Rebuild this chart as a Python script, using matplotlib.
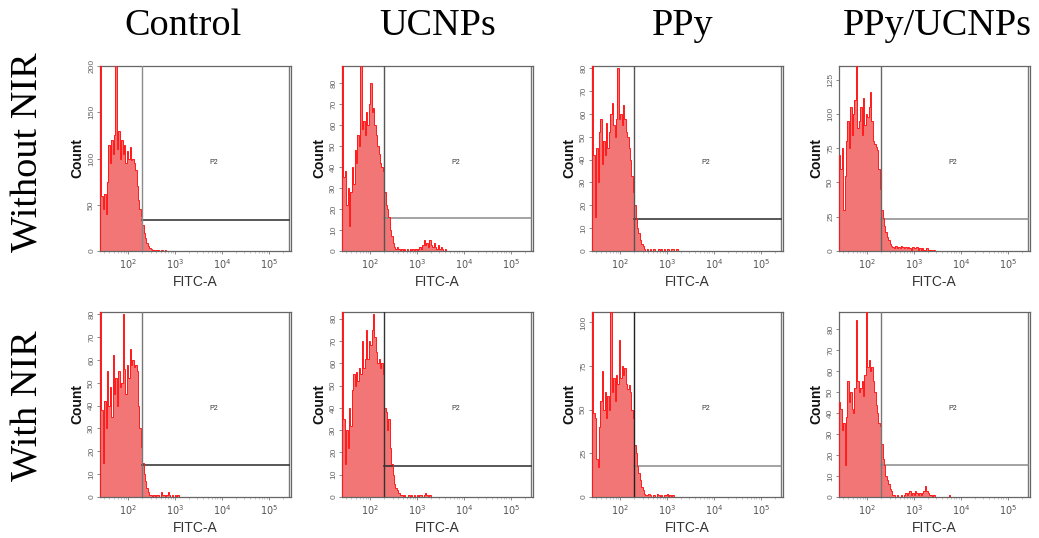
import numpy as np
import matplotlib
matplotlib.use("Agg")
import matplotlib.pyplot as plt

# ---------------- data ----------------
col_titles = ["Control", "UCNPs", "PPy", "PPy/UCNPs"]
row_titles = ["Without NIR", "With NIR"]

# log10 bin layout of the FITC-A histograms
log_start = 1.40
log_step = 0.03
n_bins = 80

ctrl_off = [210, 60, 45, 62, 40, 75, 115, 95, 120, 105, 125, 210, 110, 130, 100, 120, 105, 115, 95, 108,
            100, 112, 98, 100, 95, 88, 70, 55, 45, 38, 28, 20, 14, 9, 5, 3, 2, 1, 1, 0,
            1, 1, 0, 1, 1, 0, 1, 0, 0, 0, 0, 0, 0, 0, 0, 0, 0, 0, 0, 0,
            0, 0, 0, 0, 0, 0, 0, 0, 0, 0, 0, 0, 0, 0, 0, 0, 0, 0, 0, 0]
ucnp_off = [90, 35, 38, 22, 30, 12, 28, 40, 32, 48, 42, 55, 50, 90, 58, 62, 55, 66, 60, 70,
            80, 66, 68, 60, 55, 50, 46, 42, 40, 38, 28, 22, 20, 16, 10, 7, 4, 2, 1, 2,
            1, 0, 1, 0, 1, 0, 1, 0, 1, 0, 1, 0, 1, 0, 1, 2, 1, 3, 5, 3,
            4, 2, 5, 3, 2, 4, 2, 1, 3, 1, 2, 1, 0, 1, 0, 0, 0, 0, 0, 0]
ppy_off = [85, 42, 15, 45, 30, 52, 58, 38, 48, 42, 56, 45, 52, 60, 65, 55, 50, 58, 80, 58,
           60, 55, 64, 58, 52, 50, 45, 40, 33, 26, 20, 14, 10, 8, 5, 3, 2, 1, 0, 1,
           0, 1, 0, 1, 1, 0, 0, 1, 0, 1, 0, 1, 0, 1, 1, 0, 1, 1, 0, 0,
           1, 0, 0, 0, 0, 0, 0, 0, 0, 0, 0, 0, 0, 0, 0, 0, 0, 0, 0, 0]
ppyucnp_off = [70, 60, 75, 30, 55, 80, 95, 75, 105, 85, 100, 110, 135, 90, 95, 105, 85, 112, 92, 100,
               98, 105, 116, 95, 80, 78, 76, 74, 60, 45, 30, 24, 18, 14, 10, 8, 5, 4, 3, 2,
               4, 2, 3, 2, 4, 3, 2, 3, 2, 3, 2, 1, 3, 2, 2, 3, 1, 2, 1, 2,
               1, 1, 2, 0, 1, 1, 0, 1, 0, 0, 0, 0, 0, 0, 0, 0, 0, 0, 0, 0]
ctrl_on = [85, 38, 15, 42, 30, 55, 40, 48, 35, 62, 45, 52, 40, 55, 48, 50, 80, 56, 45, 58,
           52, 65, 58, 60, 57, 58, 55, 40, 30, 22, 15, 10, 7, 4, 2, 1, 1, 0, 1, 0,
           1, 1, 0, 2, 1, 1, 0, 1, 2, 1, 0, 1, 0, 1, 0, 1, 0, 0, 0, 0,
           0, 0, 0, 0, 0, 0, 0, 0, 0, 0, 0, 0, 0, 0, 0, 0, 0, 0, 0, 0]
ucnp_on = [88, 35, 15, 30, 22, 40, 32, 48, 55, 50, 56, 52, 58, 55, 70, 58, 62, 75, 62, 70,
           68, 75, 82, 72, 65, 60, 62, 58, 60, 55, 40, 38, 30, 35, 22, 15, 10, 6, 4, 3,
           2, 1, 1, 0, 1, 0, 0, 1, 0, 1, 0, 1, 0, 1, 0, 1, 1, 0, 1, 2,
           1, 0, 1, 0, 0, 0, 0, 0, 0, 0, 0, 0, 0, 0, 0, 0, 0, 0, 0, 0]
ppy_on = [110, 48, 45, 22, 17, 40, 55, 72, 50, 60, 45, 58, 50, 106, 60, 68, 55, 70, 65, 90,
          68, 75, 70, 74, 65, 62, 64, 60, 50, 45, 30, 25, 18, 14, 10, 6, 4, 2, 1, 1,
          2, 1, 0, 1, 1, 0, 2, 1, 0, 1, 0, 1, 1, 2, 0, 1, 0, 1, 0, 0,
          0, 0, 0, 0, 0, 0, 0, 0, 0, 0, 0, 0, 0, 0, 0, 0, 0, 0, 0, 0]
ppyucnp_on = [45, 42, 32, 35, 15, 38, 55, 45, 50, 42, 40, 52, 84, 55, 50, 52, 55, 48, 58, 88,
              62, 65, 60, 62, 55, 50, 44, 40, 35, 34, 25, 18, 15, 10, 8, 6, 4, 3, 1, 1,
              0, 1, 0, 0, 1, 0, 1, 2, 1, 2, 3, 1, 2, 1, 3, 2, 1, 2, 1, 2,
              3, 5, 3, 2, 1, 1, 0, 1, 0, 0, 0, 0, 0, 0, 0, 0, 0, 0, 1, 0]

panel_counts = [ctrl_off, ucnp_off, ppy_off, ppyucnp_off,
                ctrl_on, ucnp_on, ppy_on, ppyucnp_on]
y_max = [200, 88, 81, 135, 81, 83, 106, 88]
y_ticks = [[0, 50, 100, 150, 200],
           [0, 10, 20, 30, 40, 50, 60, 70, 80],
           [0, 10, 20, 30, 40, 50, 60, 70, 80],
           [0, 25, 50, 75, 100, 125],
           [0, 10, 20, 30, 40, 50, 60, 70, 80],
           [0, 10, 20, 30, 40, 50, 60, 70, 80],
           [0, 25, 50, 75, 100],
           [0, 10, 20, 30, 40, 50, 60, 70, 80]]
gate_low = 200
gate_high = 262144
gate_level = [34, 15.5, 14, 23.5, 14, 14, 18, 15]
x_ticks = [1e2, 1e3, 1e4, 1e5]
x_ticklabels = ["$10^2$", "$10^3$", "$10^4$", "$10^5$"]

# ---------------- styles ----------------
hline_col = ["#2a2a2a", "#8a8a8a", "#2a2a2a", "#8a8a8a", "#2a2a2a", "#2a2a2a", "#8a8a8a", "#8a8a8a"]
vline_col = ["#8a8a8a", "#555555", "#555555", "#666666", "#777777", "#333333", "#222222", "#777777"]

plt.rcParams["font.family"] = ["Liberation Sans", "DejaVu Sans"]

fig = plt.figure(figsize=(10.39, 5.38), dpi=100)
W, H = 1039.0, 538.0
col_left = [100, 342, 592, 839]
row_top = [66, 312]
ax_w, ax_h = 191, 185

edges = 10 ** (log_start + log_step * np.arange(n_bins + 1))

for k in range(8):
    r, c = divmod(k, 4)
    ax = fig.add_axes([col_left[c] / W, 1 - (row_top[r] + ax_h) / H, ax_w / W, ax_h / H])
    vals = np.array(panel_counts[k], dtype=float)
    ax.stairs(vals, edges, fill=True, color="#f37676", lw=0, zorder=2)
    ax.stairs(vals, edges, color="#ff1a1a", lw=0.7, zorder=3)
    ax.set_xscale("log")
    ax.set_xlim(10 ** 1.40, 10 ** 5.47)
    ax.set_ylim(0, y_max[k])
    # gate P2
    ax.axvline(gate_low, color=vline_col[k], lw=1.0, zorder=4)
    ax.axvline(gate_high, color="#777777", lw=1.0)
    ax.plot([gate_low, gate_high], [gate_level[k], gate_level[k]], color=hline_col[k], lw=1.1)
    ax.text(10 ** 3.82, y_max[k] * 0.48, "P2", fontsize=5, color="#333333", ha="center", va="center")
    # axes style
    for s in ax.spines.values():
        s.set_color("#666666")
        s.set_linewidth(0.9)
    ax.set_xticks(x_ticks)
    ax.set_xticklabels(x_ticklabels, fontsize=7, color="#555555")
    ax.xaxis.set_minor_locator(matplotlib.ticker.LogLocator(base=10, subs=np.arange(2, 10)))
    ax.xaxis.set_minor_formatter(matplotlib.ticker.NullFormatter())
    ax.tick_params(axis="x", which="major", length=2.5, width=0.6, color="#777777", pad=2)
    ax.tick_params(axis="x", which="minor", length=1.5, width=0.4, color="#999999")
    ax.set_yticks(y_ticks[k])
    ax.set_yticklabels([str(v) for v in y_ticks[k]], fontsize=6, color="#666666",
                       rotation=90, va="center")
    ax.tick_params(axis="y", length=2, width=0.6, color="#777777", pad=1.5)
    ax.set_xlabel("FITC-A", fontsize=10, color="#333333", labelpad=3)
    ax.set_ylabel("Count", fontsize=10, color="#111111", fontweight="bold", labelpad=3)

# column titles
title_x = [183, 438, 683, 937]
for t, x in zip(col_titles, title_x):
    fig.text(x / W, 1 - 26 / H, t, fontsize=27.5, family="Liberation Serif", ha="center", va="center")

row_y = [152, 406]
for t, y in zip(row_titles, row_y):
    fig.text(28 / W, 1 - y / H, t, fontsize=27.5, family="Liberation Serif", rotation=90,
             ha="center", va="center")

fig.savefig("out.png", dpi=100, facecolor="white")
